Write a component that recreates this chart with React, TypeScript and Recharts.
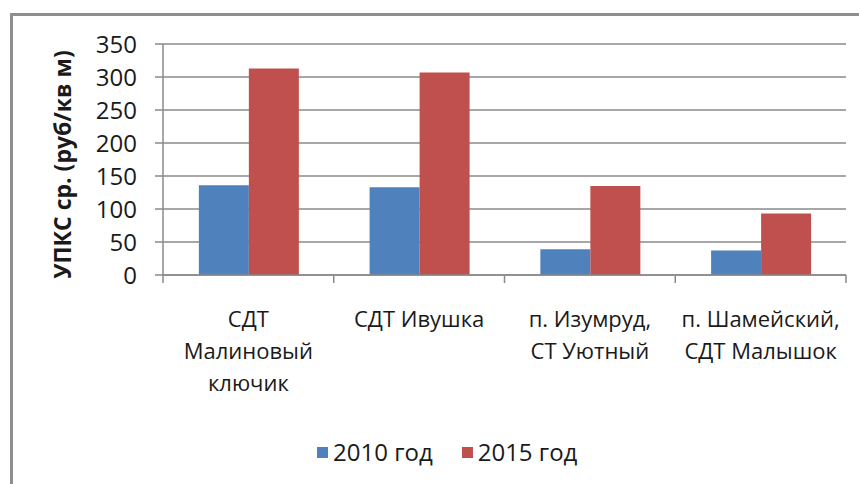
import React from "react";
import { BarChart, Bar, XAxis, YAxis, CartesianGrid, Legend } from "recharts";

const categories = ["СДТ Малиновый ключик", "СДТ Ивушка", "п. Изумруд, СТ Уютный", "п. Шамейский, СДТ Малышок"];
const tickLines = [["СДТ", "Малиновый", "ключик"], ["СДТ Ивушка"], ["п. Изумруд,", "СТ Уютный"], ["п. Шамейский,", "СДТ Малышок"]];
const values2010 = [136, 133, 39, 37];
const values2015 = [313, 307, 135, 93];
const yTicks = [0, 50, 100, 150, 200, 250, 300, 350];
const seriesNames = ["2010 год", "2015 год"];
const yTitle = "УПКС ср. (руб/кв м)";

const data = categories.map((name, i) => ({ name, y2010: values2010[i], y2015: values2015[i] }));

const FONT = '"Open Sans", sans-serif';
const W = 859;
const H = 484;
const Y_AXIS_W = 163;
const PLOT_LEFT = Y_AXIS_W; // chart margin.left is 0
const GRID = "#8a8a8a";

// category label + excel-style boundary tick marks
const XTick = (props: any) => {
  const { x, y, index } = props;
  const band = (x - PLOT_LEFT) / (index + 0.5);
  const left = PLOT_LEFT + index * band;
  const lines = tickLines[index] || [];
  return (
    <g>
      <line x1={left} x2={left} y1={y - 8} y2={y} stroke={GRID} strokeWidth={1.5} />
      {index === categories.length - 1 && (
        <line x1={left + band} x2={left + band} y1={y - 8} y2={y} stroke={GRID} strokeWidth={1.5} />
      )}
      {lines.map((t, i) => (
        <text key={i} x={x} y={y + 44 + i * 32} textAnchor="middle" fontSize={22} fontFamily={FONT} fill="#1a1a1a">
          {t}
        </text>
      ))}
    </g>
  );
};

const YTitle = (props: any) => {
  const vb = props.viewBox || { x: 0, y: 0, width: 0, height: 0 };
  const cx = vb.x + 62;
  const cy = vb.y + vb.height / 2 + 5;
  return (
    <text x={cx} y={cy} transform={`rotate(-90 ${cx} ${cy})`} textAnchor="middle" dominantBaseline="central"
      fontSize={23} fontWeight="bold" fontFamily={FONT} fill="#1a1a1a">
      {yTitle}
    </text>
  );
};

const renderLegend = (props: any) => (
  <div style={{ display: "flex", gap: 29, fontFamily: FONT, fontSize: 24, color: "#1a1a1a", lineHeight: "28px" }}>
    {(props.payload || []).map((p: any) => (
      <span key={p.value} style={{ display: "flex", alignItems: "center" }}>
        <span style={{ display: "inline-block", width: 11, height: 11, background: p.color, marginRight: 5 }} />
        {p.value}
      </span>
    ))}
  </div>
);

export default function App() {
  return (
    <div style={{ position: "absolute", left: 0, top: 0, width: W, height: H, overflow: "hidden", background: "#fff" }}>
      <div
        style={{
          position: "absolute", left: 10, top: 13, width: 900, height: 500,
          borderTop: "3px solid #8f8f8f", borderLeft: "3px solid #8f8f8f",
        }}
      />
      <div style={{ position: "absolute", left: 0, top: 0 }}>
        <BarChart width={W} height={H} data={data} margin={{ top: 44, right: 13, left: 0, bottom: 18 }}
          barCategoryGap="21%" barGap={0}>
          <CartesianGrid vertical={false} stroke={GRID} strokeWidth={1.5} />
          <XAxis dataKey="name" height={163} interval={0} tickLine={false} tickSize={8} tickMargin={0}
            axisLine={{ stroke: GRID, strokeWidth: 1.5 }} tick={<XTick />} />
          <YAxis width={Y_AXIS_W} domain={[0, 350]} ticks={yTicks} interval={0} tickSize={8} tickMargin={18}
            axisLine={{ stroke: GRID, strokeWidth: 1.5 }} tickLine={{ stroke: GRID, strokeWidth: 1.5 }}
            tick={{ fontSize: 24, fontFamily: FONT, fill: "#1a1a1a" }} label={<YTitle />} />
          <Legend verticalAlign="bottom" align="left" content={renderLegend}
            wrapperStyle={{ left: 317, bottom: 18 }} />
          <Bar dataKey="y2010" name={seriesNames[0]} fill="#4F81BD" isAnimationActive={false} />
          <Bar dataKey="y2015" name={seriesNames[1]} fill="#C0504D" isAnimationActive={false} />
        </BarChart>
      </div>
    </div>
  );
}
